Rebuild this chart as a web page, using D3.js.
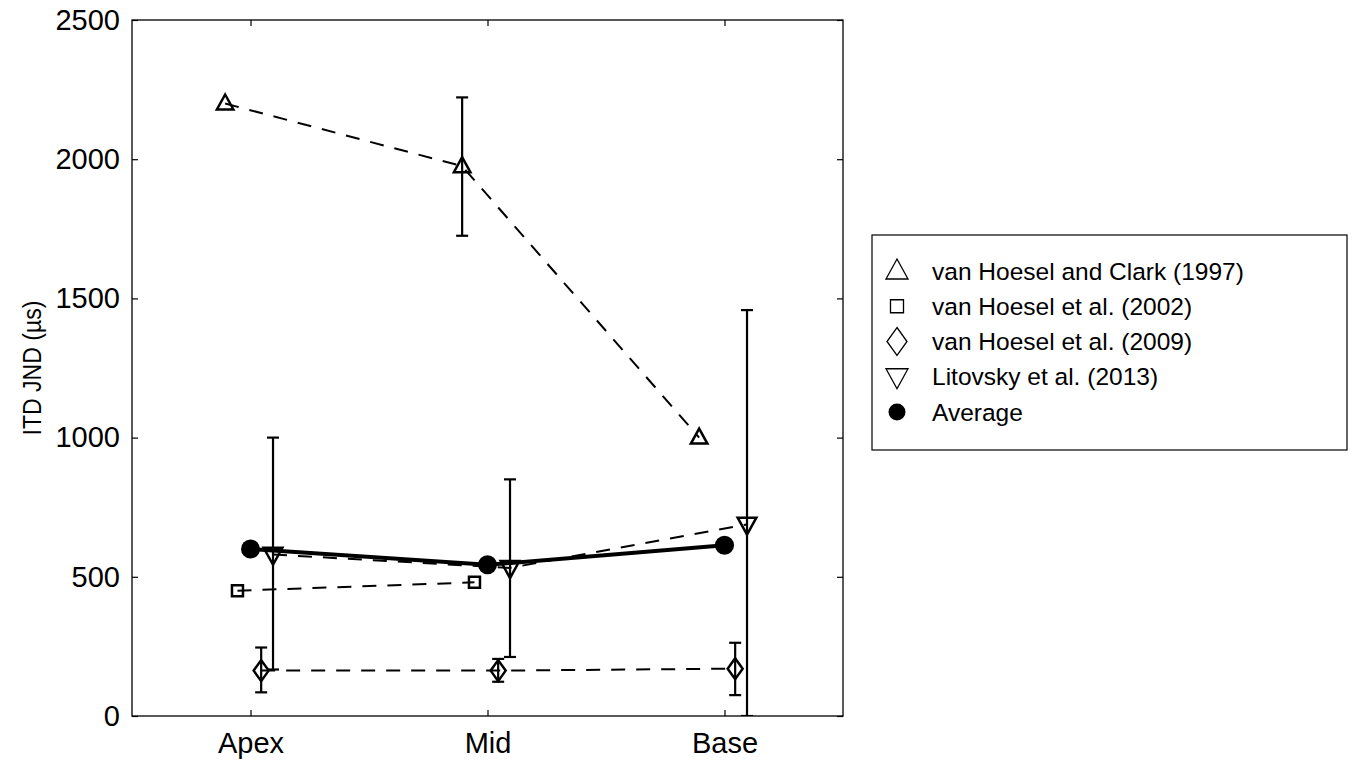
<!DOCTYPE html>
<html>
<head>
<meta charset="utf-8">
<script src="https://cdn.jsdelivr.net/npm/d3@7"></script>
<style>
  html, body { margin: 0; padding: 0; background: #fff; }
  svg { display: block; font-family: "Liberation Sans", Arial, Helvetica, sans-serif; }
</style>
</head>
<body>
<svg id="chart" width="1365" height="762"></svg>
<script>
// ---- data ----
const categories = ["Apex", "Mid", "Base"];
const yTicks = [0, 500, 1000, 1500, 2000, 2500];

const seriesNames = [
  "van Hoesel and Clark (1997)",
  "van Hoesel et al. (2002)",
  "van Hoesel et al. (2009)",
  "Litovsky et al. (2013)",
  "Average"
];

const vhc1997 = [2200, 1975, 1000];
const vhc1997Lo = [null, 1725, null];
const vhc1997Hi = [null, 2222, null];

const vh2002 = [450, 480, null];

const vh2009 = [163, 163, 170];
const vh2009Lo = [85, 123, 75];
const vh2009Hi = [246, 205, 263];

const lit2013 = [580, 532, 688];
const lit2013Lo = [167, 212, 0];
const lit2013Hi = [1000, 850, 1458];

const average = [600, 543, 613];

// ---- layout ----
const svg = d3.select("#chart");
const L = 132, R = 843, T = 20, B = 716;

const x = d3.scaleLinear().domain([0.5, 3.5]).range([L, R]);
const y = d3.scaleLinear().domain([0, 2500]).range([B, T]);

const offsets = { up: -0.107, sq: -0.055, dia: 0.045, down: 0.095, avg: 0 };

// axes (ticks inward, box)
const axB = svg.append("g").attr("transform", `translate(0,${B})`)
  .call(d3.axisBottom(x).tickValues([1, 2, 3]).tickFormat((d) => categories[d - 1]).tickSizeInner(-6).tickSizeOuter(0).tickPadding(16));
const axT = svg.append("g").attr("transform", `translate(0,${T})`)
  .call(d3.axisTop(x).tickValues([1, 2, 3]).tickFormat("").tickSizeInner(-6).tickSizeOuter(0));
const axL = svg.append("g").attr("transform", `translate(${L},0)`)
  .call(d3.axisLeft(y).tickValues(yTicks).tickFormat(d3.format("d")).tickSizeInner(-6).tickSizeOuter(0).tickPadding(12));
const axR = svg.append("g").attr("transform", `translate(${R},0)`)
  .call(d3.axisRight(y).tickValues(yTicks).tickFormat("").tickSizeInner(-6).tickSizeOuter(0));

[axB, axT, axL, axR].forEach(a => {
  a.select(".domain").remove();
  a.selectAll(".tick line").attr("stroke", "#000").attr("stroke-width", 1.2);
  a.selectAll("text").attr("fill", "#000").attr("font-size", 29);
});

svg.append("rect").attr("x", L).attr("y", T).attr("width", R - L).attr("height", B - T)
  .attr("fill", "none").attr("stroke", "#000").attr("stroke-width", 1.3);

svg.append("text")
  .attr("transform", `translate(41,${(T + B) / 2}) rotate(-90) scale(0.87,1)`)
  .attr("text-anchor", "middle")
  .attr("font-size", 26.5)
  .attr("fill", "#000")
  .text("ITD JND (\u00b5s)");

// clip
svg.append("clipPath").attr("id", "clip").append("rect")
  .attr("x", L).attr("y", T).attr("width", R - L).attr("height", B - T);
const plot = svg.append("g").attr("clip-path", "url(#clip)");

const dash = "14,11";

function drawSeries(vals, off, opts) {
  const pts = vals.map((v, i) => v == null ? null : [x(i + 1 + off), y(v)]).filter(p => p);
  plot.append("path")
    .attr("d", d3.line()(pts))
    .attr("fill", "none")
    .attr("stroke", "#000")
    .attr("stroke-width", opts.width || 2)
    .attr("stroke-dasharray", opts.dash || null);
}

function drawErr(vals, lo, hi, off) {
  vals.forEach((v, i) => {
    if (v == null || lo[i] == null) return;
    const cx = x(i + 1 + off);
    const g = plot.append("g").attr("stroke", "#000").attr("stroke-width", 2.2);
    g.append("line").attr("x1", cx).attr("x2", cx).attr("y1", y(lo[i])).attr("y2", y(hi[i]));
    g.append("line").attr("x1", cx - 6).attr("x2", cx + 6).attr("y1", y(lo[i])).attr("y2", y(lo[i]));
    g.append("line").attr("x1", cx - 6).attr("x2", cx + 6).attr("y1", y(hi[i])).attr("y2", y(hi[i]));
  });
}

function markerPath(type, s) {
  if (type === "up") return `M0,${-s * 0.6}L${s * 0.55},${s * 0.4}L${-s * 0.55},${s * 0.4}Z`;
  if (type === "down") return `M0,${s * 0.6}L${s * 0.55},${-s * 0.4}L${-s * 0.55},${-s * 0.4}Z`;
  if (type === "sq") return `M${-s / 2},${-s / 2}H${s / 2}V${s / 2}H${-s / 2}Z`;
  if (type === "dia") return `M0,${-s * 0.7}L${s * 0.5},0L0,${s * 0.7}L${-s * 0.5},0Z`;
}

function drawMarkers(vals, off, type, size, sw) {
  vals.forEach((v, i) => {
    if (v == null) return;
    plot.append("path")
      .attr("transform", `translate(${x(i + 1 + off)},${y(v)})`)
      .attr("d", markerPath(type, size))
      .attr("fill", "none")
      .attr("stroke", "#000")
      .attr("stroke-width", sw)
      .attr("stroke-linejoin", "miter");
  });
}

// van Hoesel and Clark 1997
drawSeries(vhc1997, offsets.up, { dash, width: 2 });
drawErr(vhc1997, vhc1997Lo, vhc1997Hi, offsets.up);
drawMarkers(vhc1997, offsets.up, "up", 15, 2.5);

// van Hoesel 2002
drawSeries(vh2002, offsets.sq, { dash, width: 2 });
drawMarkers(vh2002, offsets.sq, "sq", 11, 2.5);

// van Hoesel 2009
drawSeries(vh2009, offsets.dia, { dash, width: 2 });
drawErr(vh2009, vh2009Lo, vh2009Hi, offsets.dia);
drawMarkers(vh2009, offsets.dia, "dia", 15, 2.5);

// Litovsky 2013
drawSeries(lit2013, offsets.down, { dash, width: 2 });
drawErr(lit2013, lit2013Lo, lit2013Hi, offsets.down);
drawMarkers(lit2013, offsets.down, "down", 17, 2.5);

// Average
drawSeries(average, offsets.avg, { width: 4 });
average.forEach((v, i) => {
  plot.append("circle").attr("cx", x(i + 1)).attr("cy", y(v)).attr("r", 9.5).attr("fill", "#000");
});

// ---- legend ----
const lg = svg.append("g");
lg.append("rect").attr("x", 872).attr("y", 235).attr("width", 475).attr("height", 215)
  .attr("fill", "#fff").attr("stroke", "#000").attr("stroke-width", 1.2);
const legTypes = ["up", "sq", "dia", "down", "circle"];
const rowY = d3.scaleLinear().domain([0, 4]).range([271, 412]);
seriesNames.forEach((name, i) => {
  const cy = rowY(i);
  const t = legTypes[i];
  if (t === "circle") {
    lg.append("circle").attr("cx", 897).attr("cy", cy).attr("r", 8.5).attr("fill", "#000");
  } else {
    const size = t === "sq" ? 13 : 20;
    lg.append("path")
      .attr("transform", `translate(897,${cy})`)
      .attr("d", markerPath(t, size))
      .attr("fill", "none").attr("stroke", "#000").attr("stroke-width", 1.3);
  }
  lg.append("text").attr("x", 932).attr("y", cy).attr("dy", "0.35em")
    .attr("font-size", 24.5).attr("fill", "#000").text(name);
});
</script>
</body>
</html>
